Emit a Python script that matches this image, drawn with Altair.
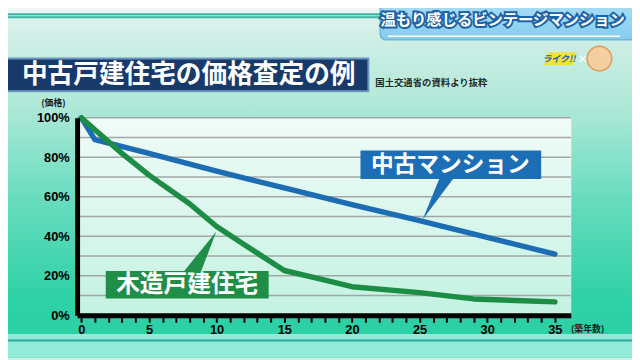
import altair as alt
import pandas as pd

# ---- data ----
series_names = ["中古マンション", "木造戸建住宅"]
blue_years = [0, 1, 5, 10, 15, 20, 25, 30, 35]
blue_values = [100, 89, 82, 73, 64.5, 56, 48, 39.5, 31]
green_years = [0, 1, 3, 5, 8, 10, 12, 15, 17, 20, 25, 29, 35]
green_values = [100, 94, 82, 71, 56.5, 45, 36, 22.7, 19.5, 14.5, 11.5, 8.3, 6.8]
x_tick_values = list(range(0, 36))
y_label_values = [0, 20, 40, 60, 80, 100]
y_grid_values = list(range(0, 101, 10))

title_text = "中古戸建住宅の価格査定の例"
source_text = "国土交通省の資料より抜粋"
header_text = "温もり感じるビンテージマンション"
y_unit_text = "(価格)"
x_unit_text = "(築年数)"

BLUE = "#1c6db3"
GREEN = "#1d8c45"
JP = "Noto Sans CJK JP"
NUM = "Liberation Sans"

W, H = 500, 200
OX, OY = 78, 117  # page position of the plot origin


def vx(px):
    return px - OX


def vy(py):
    return py - OY


lines_df = pd.concat([
    pd.DataFrame({"year": blue_years, "value": blue_values, "series": series_names[0]}),
    pd.DataFrame({"year": green_years, "value": green_values, "series": series_names[1]}),
])
grid_df = pd.DataFrame({"value": y_grid_values})
one = pd.DataFrame({"a": [0]})

xscale = alt.Scale(domain=[-0.314, 36.18], nice=False, zero=False)
yscale = alt.Scale(domain=[0, 100], nice=False)


def rect(x1, y1, x2, y2, **kw):
    return alt.Chart(one).mark_rect(**kw).encode(
        x=alt.value(vx(x1)), x2=alt.value(vx(x2)), y=alt.value(vy(y1)), y2=alt.value(vy(y2)))


def text(px, py, t, **kw):
    return alt.Chart(one).mark_text(text=t, **kw).encode(x=alt.value(vx(px)), y=alt.value(vy(py)))


def grad(stops, vertical=True):
    return alt.Gradient(
        gradient="linear",
        stops=[alt.GradientStop(color=c, offset=o) for o, c in stops],
        x1=0, x2=0 if vertical else 1, y1=0, y2=1 if vertical else 0)


layers = []
# page background
layers.append(rect(0, 0, 640, 360, color=grad([
    (0.0, "#e3f4f0"), (0.11, "#cdeee5"), (0.28, "#b2e9d9"),
    (0.56, "#66dcbd"), (0.83, "#2fd1a6"), (1.0, "#2ccfa4")])))
layers.append(rect(0, 0, 640, 11, color="#edf6f4"))
layers.append(rect(0, 11, 640, 16.5, color="#3db5a3"))
layers.append(rect(0, 13, 640, 14, color="#bfe9df"))
layers.append(rect(0, 16.5, 640, 28, color="#d9f1eb"))
layers.append(rect(0, 336, 640, 360, color="#94ead8"))
layers.append(rect(0, 341.5, 640, 343.5, color="#2aa99a"))

# header box
layers.append(rect(385, -10, 650, 38, color=grad([(0, "#b3e2f6"), (1, "#86ccee")]),
                   stroke="#6cb6de", strokeWidth=1.5, cornerRadius=6))
layers.append(rect(393, 33.5, 628, 35, color="#ffffff"))
layers.append(text(509, 18, header_text, font=JP, fontSize=15.5, fontWeight="bold",
                   color="#1c63a8", stroke="#1c63a8", strokeWidth=4, align="center", baseline="middle"))
layers.append(text(509, 18, header_text, font=JP, fontSize=15.5, fontWeight="bold",
                   color="#ffffff", align="center", baseline="middle"))

# logo
layers.append(alt.Chart(one).mark_point(
    shape="M -0.85 0.36 L -0.6 -0.36 L 1 -0.36 L 0.75 0.36 Z", filled=True, size=1300,
    color="#f4e03a", opacity=1
).encode(x=alt.value(vx(566)), y=alt.value(vy(57))))
layers.append(text(566, 57.5, "ライク!!", font=JP, fontSize=9, fontWeight="bold", fontStyle="italic",
                   color="#1c5fa8", align="center", baseline="middle"))
layers.append(text(590, 58, "×", font=JP, fontSize=10, fontWeight="bold",
                   color="#ffffff", align="center", baseline="middle"))
layers.append(alt.Chart(one).mark_circle(size=620, color="#f4cfa2", opacity=1, stroke="#e39a55",
                                         strokeWidth=1.5).encode(x=alt.value(vx(607)), y=alt.value(vy(57))))

# title box
layers.append(rect(-2, 57, 373, 90, color="#173a6b", stroke="#6d95c2", strokeWidth=2))
layers.append(text(191, 74, title_text, font=JP, fontSize=26, fontWeight="bold",
                   color="#ffffff", align="center", baseline="middle"))
layers.append(text(380, 82, source_text, font=JP, fontSize=9.5, fontWeight="bold",
                   color="#1e2a2a", align="left", baseline="middle"))

# plot panel
layers.append(alt.Chart(one).mark_rect(color=grad([(0, "#f1fcf9"), (1, "#c3f2e2")])).encode(
    x=alt.value(0), x2=alt.value(W + 0.5), y=alt.value(0), y2=alt.value(H)))

# grid lines (same field/scale as the data so that the axis is shared)
layers.append(alt.Chart(grid_df).mark_rule(color="#a3a6a5", strokeWidth=1.5).encode(
    y=alt.Y("value:Q", scale=yscale, title=None, axis=alt.Axis(
        values=y_label_values, labelExpr="datum.label + '%'",
        domainColor="#000000", domainWidth=5, ticks=False,
        labelFont=NUM, labelFontSize=13, labelFontWeight="bold", labelColor="#000000",
        labelPadding=8, labelFlush=False, labelOverlap=False, grid=False, zindex=1))))

# unit labels
layers.append(text(54, 102, y_unit_text, font=JP, fontSize=9, fontWeight="bold",
                   color="#1a1a1a", align="center", baseline="middle"))
layers.append(text(595, 331, x_unit_text, font=JP, fontSize=9, fontWeight="bold",
                   color="#1a1a1a", align="center", baseline="middle"))

# data lines
layers.append(alt.Chart(lines_df).mark_line(strokeWidth=5.5, strokeCap="round", strokeJoin="round").encode(
    x=alt.X("year:Q", scale=xscale, title=None, axis=alt.Axis(
        values=x_tick_values, labelExpr="datum.value % 5 === 0 ? datum.label : ''",
        domainColor="#000000", domainWidth=5, tickColor="#000000", tickWidth=2, tickSize=7,
        labelFont=NUM, labelFontSize=13, labelFontWeight="bold", labelColor="#000000",
        labelPadding=1, labelFlush=False, labelOverlap=False, grid=False, zindex=1)),
    y=alt.Y("value:Q", scale=yscale, title=None, axis=alt.Axis(
        values=y_label_values, labelExpr="datum.label + '%'",
        domainColor="#000000", domainWidth=5, ticks=False,
        labelFont=NUM, labelFontSize=13, labelFontWeight="bold", labelColor="#000000",
        labelPadding=8, labelFlush=False, labelOverlap=False, grid=False, zindex=1)),
    color=alt.Color("series:N", scale=alt.Scale(domain=series_names, range=[BLUE, GREEN]), legend=None),
    detail="series:N",
))

# callouts
layers.append(rect(365, 150, 548, 179, color="#1c6fb6"))
layers.append(alt.Chart(one).mark_point(
    shape="M 0.068 -1 L 0.75 -1 L -0.75 1 Z", filled=True, size=1936, color="#1c6fb6", opacity=1
).encode(x=alt.value(366.5), y=alt.value(81)))
layers.append(text(456, 165, series_names[0], font=JP, fontSize=23, fontWeight="bold",
                   color="#ffffff", align="center", baseline="middle"))

layers.append(rect(107, 272, 272, 300, color="#1e8e48"))
layers.append(alt.Chart(one).mark_point(
    shape="M -0.81 1 L 0.048 1 L 0.81 -1 Z", filled=True, size=1764, color="#1e8e48", opacity=1
).encode(x=alt.value(124), y=alt.value(136)))
layers.append(text(189.5, 286.5, series_names[1], font=JP, fontSize=24, fontWeight="bold",
                   color="#ffffff", align="center", baseline="middle"))

chart = alt.layer(*layers).properties(
    width=W, height=H,
    autosize=alt.AutoSizeParams(type="none"),
    padding={"left": 70, "top": 109, "right": 62, "bottom": 43},
    background="#cdeee5",
).configure_view(stroke=None)

chart.save("out.html", embed_options={"renderer": "svg", "actions": False})
